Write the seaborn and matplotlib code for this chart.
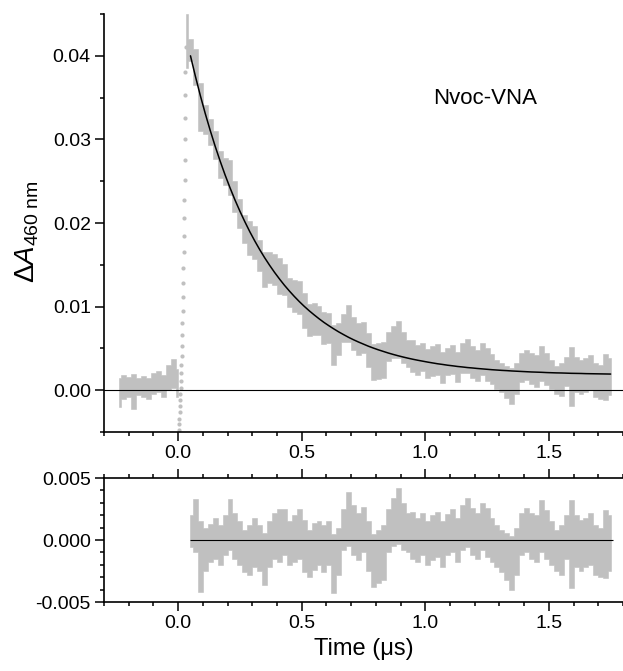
import numpy as np
import pandas as pd
import seaborn as sns
import matplotlib
matplotlib.use('Agg')
import matplotlib.pyplot as plt
from matplotlib.ticker import MultipleLocator, FormatStrFormatter

# all absorbance values in mOD (1e-3), time in microseconds
pre_t = np.round(np.arange(-0.24, 0.001, 0.02), 2)
pre_hi = [1.5, 1.8, 1.6, 1.9, 1.5, 1.7, 1.4, 2.1, 2.3, 1.8, 3.0, 3.7, 2.5]
pre_lo = [-2.0, -1.0, -0.8, -2.2, -0.6, -0.8, -1.0, -0.5, -0.2, -0.8, 0.0, 0.3, -0.8]

# sparse points of the fast rise after the flash
rise_t = [0.002, 0.003, 0.004, 0.005, 0.006, 0.007, 0.008, 0.009, 0.010, 0.011,
          0.012, 0.013, 0.014, 0.015, 0.016, 0.017, 0.018, 0.019, 0.020, 0.021,
          0.022, 0.023, 0.024, 0.025, 0.026, 0.027, 0.027, 0.028, 0.028, 0.029, 0.030]
rise_v = [-5.5, -4.8, -4.1, -3.4, -2.6, -1.9, -1.2, -0.5, 0.3, 1.1,
          2.0, 3.0, 4.1, 5.3, 6.6, 8.0, 9.5, 11.1, 12.8, 14.6,
          16.5, 18.5, 20.6, 22.8, 25.1, 27.5, 30.0, 32.6, 35.3, 38.1, 41.0]

t_fit = np.round(np.arange(0.05, 1.751, 0.02), 2)
fit_v = [40.00, 37.54, 35.23, 33.07, 31.06, 29.17, 27.41, 25.75, 24.21, 22.76,
         21.41, 20.15, 18.96, 17.86, 16.82, 15.85, 14.95, 14.10, 13.31, 12.56,
         11.87, 11.22, 10.61, 10.04, 9.51, 9.02, 8.55, 8.11, 7.71, 7.33,
         6.97, 6.64, 6.32, 6.03, 5.76, 5.51, 5.26, 5.04, 4.83, 4.64,
         4.45, 4.28, 4.12, 3.97, 3.83, 3.70, 3.58, 3.47, 3.36, 3.26,
         3.16, 3.08, 2.99, 2.92, 2.84, 2.78, 2.71, 2.66, 2.60, 2.55,
         2.50, 2.45, 2.41, 2.37, 2.34, 2.30, 2.27, 2.24, 2.21, 2.18,
         2.16, 2.14, 2.11, 2.09, 2.07, 2.06, 2.04, 2.02, 2.01, 2.00,
         1.98, 1.97, 1.96, 1.95, 1.94, 1.93]

# decay trace envelope (first point is the peak cluster at 0.03 us)
t_decay = np.concatenate([[0.03], t_fit])
decay_hi = [45.0,
            42.0, 40.8, 36.7, 34.1, 32.4, 31.0, 28.6, 27.8, 27.5, 25.0,
            22.9, 21.0, 20.2, 19.7, 18.0, 16.5, 16.5, 16.3, 15.8, 15.1,
            13.4, 13.2, 13.1, 11.6, 10.3, 10.4, 10.1, 9.3, 9.2, 7.8,
            8.0, 9.1, 10.2, 8.8, 8.0, 8.2, 6.8, 5.5, 5.6, 5.8,
            7.0, 7.7, 8.3, 7.0, 6.0, 6.0, 5.4, 5.7, 4.9, 5.3,
            5.5, 4.6, 5.1, 5.4, 4.6, 5.6, 6.1, 5.3, 4.8, 5.6,
            5.1, 4.3, 3.6, 3.2, 2.9, 2.6, 3.3, 4.4, 4.8, 4.4,
            4.2, 5.3, 4.5, 3.6, 2.9, 3.3, 4.0, 5.2, 4.0, 3.6,
            3.8, 4.2, 3.2, 3.0, 4.3, 3.9]
decay_lo = [38.6,
            39.4, 36.5, 31.0, 30.6, 29.3, 27.7, 25.4, 24.6, 23.4, 21.3,
            19.4, 17.6, 16.2, 15.7, 14.3, 12.3, 12.8, 12.6, 11.5, 11.4,
            9.9, 9.4, 9.1, 7.4, 6.5, 6.6, 6.6, 5.5, 5.7, 3.0,
            4.2, 5.8, 5.8, 4.8, 4.2, 4.5, 2.8, 1.2, 1.3, 1.4,
            3.5, 3.8, 3.8, 3.2, 2.8, 2.2, 1.8, 2.3, 1.4, 1.7,
            1.8, 0.9, 1.8, 1.9, 1.0, 2.0, 2.1, 1.5, 1.1, 1.8,
            1.1, 0.7, 0.2, -0.2, -0.9, -1.7, -0.5, 1.0, 1.2, 0.7,
            0.4, 1.1, 0.6, 0.1, -0.4, -0.7, 0.5, -1.9, -0.2, -0.5,
            -0.2, 0.0, -0.8, -1.1, -1.2, -0.6]

# residuals of the fit
res_hi = [2.0, 3.3, 1.5, 1.0, 1.3, 1.8, 1.2, 2.0, 3.3, 2.2,
          1.5, 0.8, 1.2, 1.8, 1.2, 0.6, 1.5, 2.2, 2.5, 2.5,
          1.5, 2.0, 2.5, 1.6, 0.8, 1.4, 1.5, 1.2, 1.5, 0.5,
          1.0, 2.5, 3.9, 2.8, 2.2, 2.7, 1.5, 0.5, 0.8, 1.2,
          2.5, 3.4, 4.2, 3.0, 2.2, 2.3, 1.8, 2.2, 1.5, 2.0,
          2.3, 1.5, 2.1, 2.5, 1.8, 2.8, 3.4, 2.6, 2.2, 3.0,
          2.6, 1.8, 1.2, 0.8, 0.6, 0.3, 1.0, 2.2, 2.6, 2.2,
          2.0, 3.2, 2.4, 1.5, 0.8, 1.2, 2.0, 3.2, 2.0, 1.6,
          1.8, 2.2, 1.2, 1.0, 2.4, 2.0]
res_lo = [-0.6, -1.0, -4.2, -2.5, -1.8, -1.5, -2.0, -1.2, -0.8, -1.5,
          -2.0, -2.6, -2.8, -2.2, -2.5, -3.6, -2.2, -1.5, -1.8, -1.2,
          -2.0, -1.8, -1.5, -2.6, -3.0, -2.4, -2.0, -2.6, -2.0, -4.3,
          -2.8, -0.8, -0.5, -1.2, -1.6, -1.0, -2.5, -3.8, -3.5, -3.2,
          -1.0, -0.5, -0.3, -0.8, -1.0, -1.5, -1.8, -1.2, -2.0, -1.6,
          -1.4, -2.2, -1.2, -1.0, -1.8, -0.8, -0.6, -1.2, -1.5, -0.8,
          -1.4, -1.8, -2.2, -2.6, -3.2, -4.0, -2.8, -1.2, -1.0, -1.5,
          -1.8, -1.0, -1.5, -2.0, -2.5, -2.8, -1.5, -3.9, -2.2, -2.5,
          -2.2, -2.0, -2.8, -3.0, -3.1, -2.5]

GRAY = '#c0c0c0'

sns.set_style('ticks')
plt.rcParams['font.family'] = ['Liberation Sans', 'DejaVu Sans']
plt.rcParams['mathtext.fontset'] = 'custom'
plt.rcParams['mathtext.rm'] = 'Liberation Sans'
plt.rcParams['mathtext.it'] = 'Liberation Sans:italic'
plt.rcParams['axes.unicode_minus'] = False
for key in ['text.color', 'axes.labelcolor', 'xtick.color', 'ytick.color',
            'axes.edgecolor']:
    plt.rcParams[key] = 'black'


def band_frame(t, lo, hi):
    return pd.DataFrame({'t': np.concatenate([t, t]),
                         'v': np.concatenate([lo, hi]) / 1000})


def draw_band(ax, t, lo, hi):
    # min..max envelope of the noisy trace, drawn as blocky steps
    sns.lineplot(data=band_frame(t, lo, hi), x='t', y='v', estimator='mean',
                 errorbar=('pi', 100), color=GRAY, lw=0,
                 err_kws={'alpha': 1, 'lw': 0.4, 'edgecolor': GRAY, 'step': 'mid'},
                 ax=ax)


def style_axis(ax):
    for s in ax.spines.values():
        s.set_linewidth(1.2)
        s.set_color('black')
    ax.tick_params(which='major', direction='out', length=6.5, width=1.1,
                   labelsize=14, color='black', labelcolor='black', pad=3)
    ax.tick_params(which='minor', direction='out', length=3.2, width=1.1,
                   color='black')
    ax.xaxis.set_major_locator(MultipleLocator(0.5))
    ax.xaxis.set_minor_locator(MultipleLocator(0.1))
    ax.set_xlim(-0.3, 1.8)


fig = plt.figure(figsize=(6.23, 6.71), dpi=100)
ax1 = fig.add_axes([0.1669, 0.3562, 0.8331, 0.6229])
ax2 = fig.add_axes([0.1669, 0.1028, 0.8331, 0.1848])

# top panel: transient and fit
draw_band(ax1, pre_t, pre_lo, pre_hi)
draw_band(ax1, t_decay, decay_lo, decay_hi)
sns.scatterplot(x=rise_t, y=np.array(rise_v) / 1000, color=GRAY, s=9,
                linewidth=0, ax=ax1)
sns.lineplot(x=t_fit, y=np.array(fit_v) / 1000, color='black', lw=1.1, ax=ax1)
ax1.axhline(0, color='black', lw=0.8)
ax1.set_ylim(-0.005, 0.045)
ax1.yaxis.set_major_locator(MultipleLocator(0.01))
ax1.yaxis.set_minor_locator(MultipleLocator(0.005))
ax1.yaxis.set_major_formatter(FormatStrFormatter('%.2f'))
style_axis(ax1)
ax1.spines['top'].set_visible(False)
ax1.spines['right'].set_visible(False)
ax1.set_xlabel('')
ax1.set_ylabel('\u0394' + r'$A_{\mathrm{460\ nm}}$', fontsize=20)
ax1.yaxis.set_label_coords(-0.122, 0.48)
ax1.text(1.243, 0.0349, 'Nvoc-VNA', fontsize=16, ha='center', va='center')

# bottom panel: residuals
draw_band(ax2, t_fit, res_lo, res_hi)
ax2.hlines(0, t_fit[0], 1.76, color='black', lw=0.8)
ax2.set_ylim(-0.005, 0.005)
ax2.yaxis.set_major_locator(MultipleLocator(0.005))
ax2.yaxis.set_minor_locator(MultipleLocator(0.001))
ax2.yaxis.set_major_formatter(FormatStrFormatter('%.3f'))
style_axis(ax2)
ax2.tick_params(which='both', top=True, labeltop=False)
ax2.spines['right'].set_visible(False)
ax2.set_ylabel('')
ax2.set_xlabel('Time (\u03bcs)', fontsize=17, labelpad=4)

fig.savefig('out.png', dpi=100)
